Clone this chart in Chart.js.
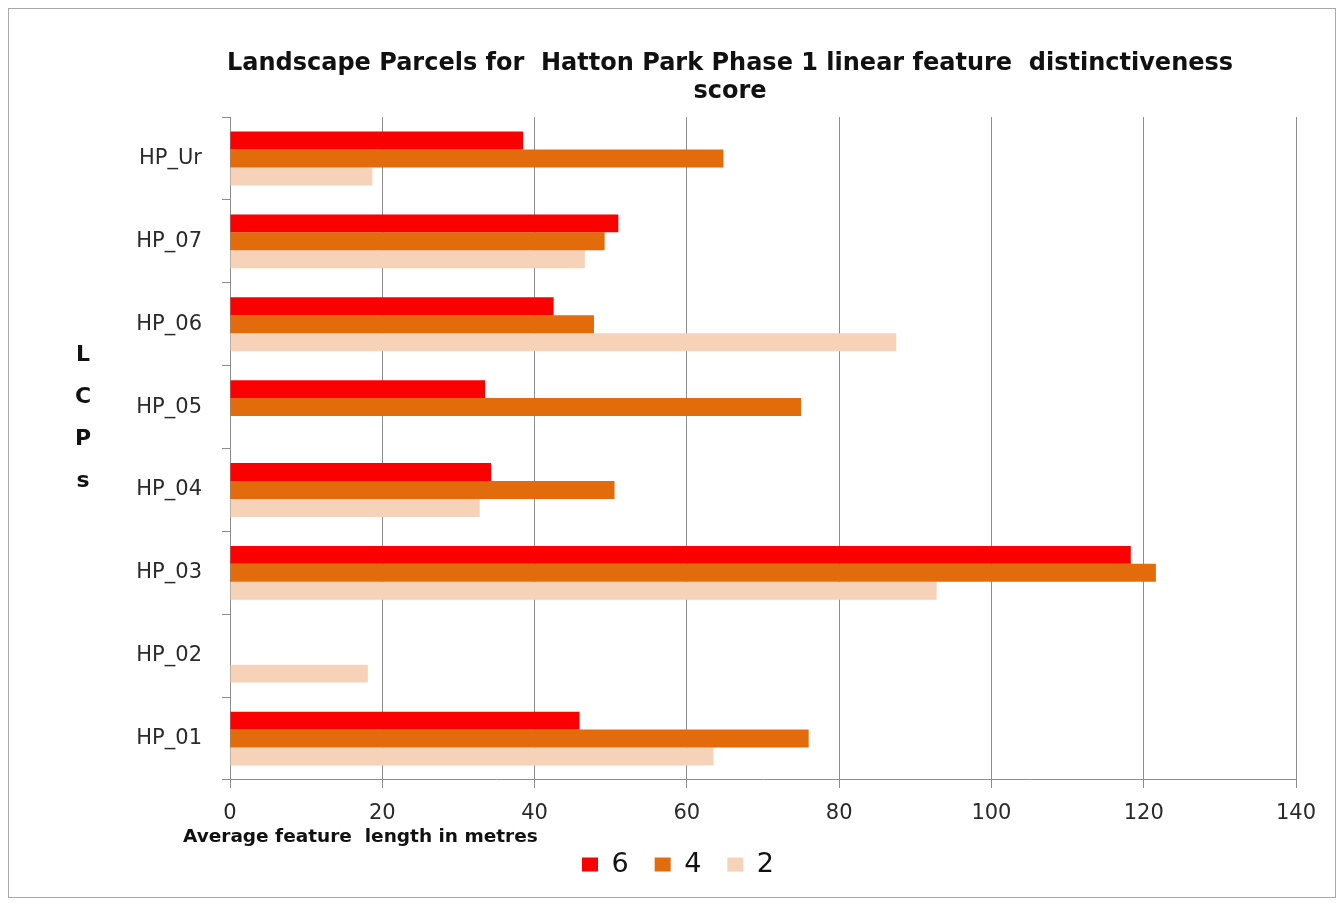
<!DOCTYPE html>
<html>
<head>
<meta charset="utf-8">
<script src="https://cdn.jsdelivr.net/npm/chart.js@4.4.1/dist/chart.umd.min.js"></script>
<style>
  body { margin: 0; background: #fff; }
  canvas { display: block; }
</style>
</head>
<body>
<canvas id="chart" width="1344" height="904"></canvas>
<script>
// data
const categories = ["HP_Ur", "HP_07", "HP_06", "HP_05", "HP_04", "HP_03", "HP_02", "HP_01"];
const seriesNames = ["6", "4", "2"];
const score6 = [38.5, 51.0, 42.5, 33.5, 34.3, 118.3, null, 45.9];
const score4 = [64.8, 49.2, 47.8, 75.0, 50.5, 121.6, null, 76.0];
const score2 = [18.7, 46.6, 87.5, null, 32.8, 92.8, 18.1, 63.5];
const xTicks = [0, 20, 40, 60, 80, 100, 120, 140];

const titleLines = ["Landscape Parcels for  Hatton Park Phase 1 linear feature  distinctiveness", "score"];
const xTitle = "Average feature  length in metres";
const yTitleLetters = ["L", "C", "P", "s"];

const colors = ["#fb0000", "#e26b0c", "#f6d2b8"];

// frame + axis titles that chart.js can't place like the original
const extras = {
  id: "extras",
  beforeDraw(chart) {
    const ctx = chart.ctx;
    ctx.save();
    ctx.fillStyle = "#fff";
    ctx.fillRect(0, 0, chart.width, chart.height);
    ctx.strokeStyle = "#a8a8a8";
    ctx.lineWidth = 1;
    ctx.strokeRect(8.5, 8.5, chart.width - 17, chart.height - 15);
    ctx.restore();
  },
  afterLayout(chart) {
    // title and legend are off-centre in the original
    chart.titleBlock.left += 27;
    chart.titleBlock.right += 27;
    chart.legend.left -= 25;
    chart.legend.right -= 25;
  },
  afterDraw(chart) {
    const { ctx, chartArea } = chart;
    ctx.save();
    ctx.fillStyle = "#111";
    ctx.font = 'bold 22px "DejaVu Sans"';
    ctx.textAlign = "center";
    ctx.textBaseline = "middle";
    yTitleLetters.forEach((ch, i) => {
      ctx.fillText(ch, chartArea.left - 147, chartArea.top + 238 + i * 42);
    });
    ctx.font = 'bold 18.5px "DejaVu Sans"';
    ctx.textAlign = "left";
    ctx.fillText(xTitle, chartArea.left - 47, chartArea.bottom + 57);
    ctx.restore();
  },
};

const data = {
  labels: categories,
  datasets: [
    { label: seriesNames[0], data: score6, backgroundColor: colors[0] },
    { label: seriesNames[1], data: score4, backgroundColor: colors[1] },
    { label: seriesNames[2], data: score2, backgroundColor: colors[2] },
  ],
};

const config = {
  type: "bar",
  data: data,
  options: {
    indexAxis: "y",
    responsive: false,
    animation: false,
    categoryPercentage: 0.65,
    barPercentage: 1.0,
    layout: { padding: { top: 40, left: 110, right: 48, bottom: 16 } },
    scales: {
      x: {
        min: 0,
        max: 140,
        afterBuildTicks: (scale) => {
          scale.ticks = xTicks.map((v) => ({ value: v }));
        },
        afterFit: (scale) => {
          scale.height = 45;
        },
        grid: { color: "#8c8c8c", lineWidth: 1, tickLength: 8 },
        border: { color: "#8c8c8c" },
        ticks: {
          color: "#2a2a2a",
          padding: 13,
          font: { family: "DejaVu Sans", size: 21 },
        },
      },
      y: {
        afterFit: (scale) => {
          scale.width = 120;
        },
        grid: { drawOnChartArea: false, color: "#8c8c8c", tickLength: 8 },
        border: { color: "#8c8c8c" },
        ticks: {
          color: "#2a2a2a",
          padding: 20,
          font: { family: "DejaVu Sans", size: 21 },
        },
      },
    },
    plugins: {
      title: {
        display: true,
        text: titleLines,
        color: "#111",
        font: { family: "DejaVu Sans", size: 24, weight: "bold", lineHeight: 1.167 },
        padding: { top: 10, bottom: 11 },
      },
      legend: {
        display: true,
        position: "bottom",
        labels: {
          boxWidth: 16,
          boxHeight: 14,
          padding: 26,
          color: "#111",
          font: { family: "DejaVu Sans", size: 27 },
        },
      },
      tooltip: { enabled: false },
    },
  },
  plugins: [extras],
};

const myChart = new Chart(document.getElementById("chart"), config);
</script>
</body>
</html>
